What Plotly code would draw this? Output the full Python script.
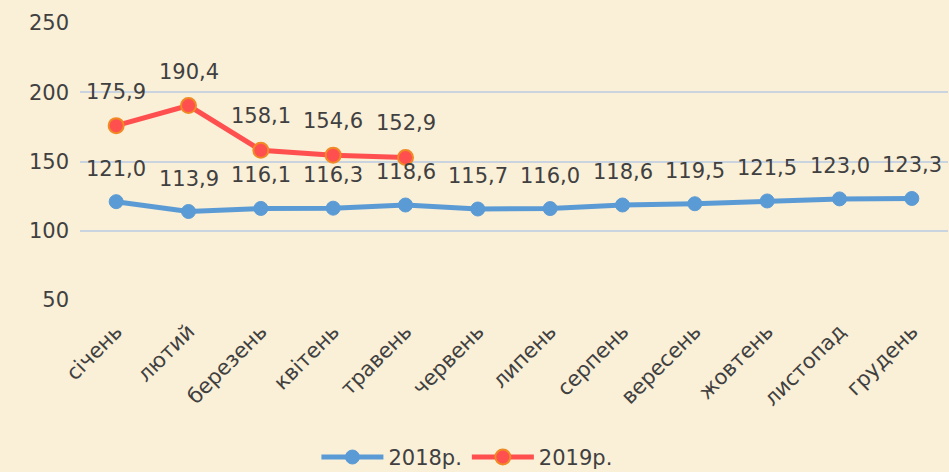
import plotly.graph_objects as go

months = ["січень", "лютий", "березень", "квітень", "травень", "червень",
          "липень", "серпень", "вересень", "жовтень", "листопад", "грудень"]
values_2018 = [121.0, 113.9, 116.1, 116.3, 118.6, 115.7, 116.0, 118.6, 119.5, 121.5, 123.0, 123.3]
values_2019 = [175.9, 190.4, 158.1, 154.6, 152.9]
y_ticks = [50, 100, 150, 200, 250]

FONT = "DejaVu Sans"
TXT = "#404040"
FS = 21

def fmt(v):
    return f"{v:.1f}".replace(".", ",")

fig = go.Figure()
fig.add_trace(go.Scatter(
    x=months, y=values_2018, name="2018р.", mode="lines+markers",
    line=dict(color="#5b9bd5", width=5),
    marker=dict(size=14, color="#5b9bd5", line=dict(color="#5b9bd5", width=1)),
))
fig.add_trace(go.Scatter(
    x=months[:len(values_2019)], y=values_2019, name="2019р.", mode="lines+markers",
    line=dict(color="#ff4f4f", width=5),
    marker=dict(size=15, color="#ff4f4f", line=dict(color="#f08a24", width=2)),
))

annotations = []
for m, v in zip(months, values_2018):
    annotations.append(dict(x=m, y=v, text=fmt(v), showarrow=False, yshift=33,
                            font=dict(family=FONT, size=FS, color=TXT)))
for m, v in zip(months, values_2019):
    annotations.append(dict(x=m, y=v, text=fmt(v), showarrow=False, yshift=34,
                            font=dict(family=FONT, size=FS, color=TXT)))

fig.update_layout(
    width=949, height=472,
    margin=dict(l=80, r=1, t=23, b=172, autoexpand=False),
    paper_bgcolor="#faefd7", plot_bgcolor="rgba(0,0,0,0)",
    font=dict(family=FONT, size=FS, color=TXT),
    annotations=annotations,
    showlegend=True,
    legend=dict(orientation="h", xref="container", yref="container",
                x=0.492, xanchor="center", y=0.031, yanchor="middle",
                font=dict(family=FONT, size=FS, color=TXT), bgcolor="rgba(0,0,0,0)",
                itemwidth=62, tracegroupgap=0),
    xaxis=dict(type="category", range=[-0.5, 11.5], tickangle=-45, showgrid=False,
               showline=False, zeroline=False, ticks="", automargin=False,
               tickfont=dict(family=FONT, size=FS, color=TXT), ticklabelstandoff=14),
    yaxis=dict(range=[50, 250], tickvals=y_ticks, showgrid=True, gridcolor="#c9d4e0",
               gridwidth=1.5, zeroline=False, showline=False, ticks="", automargin=False,
               tickfont=dict(family=FONT, size=FS, color=TXT), ticklabelstandoff=10),
)

fig.write_html("out.html", config={"displayModeBar": False},
               post_script="document.body.style.margin='0';document.body.style.overflow='hidden';")
